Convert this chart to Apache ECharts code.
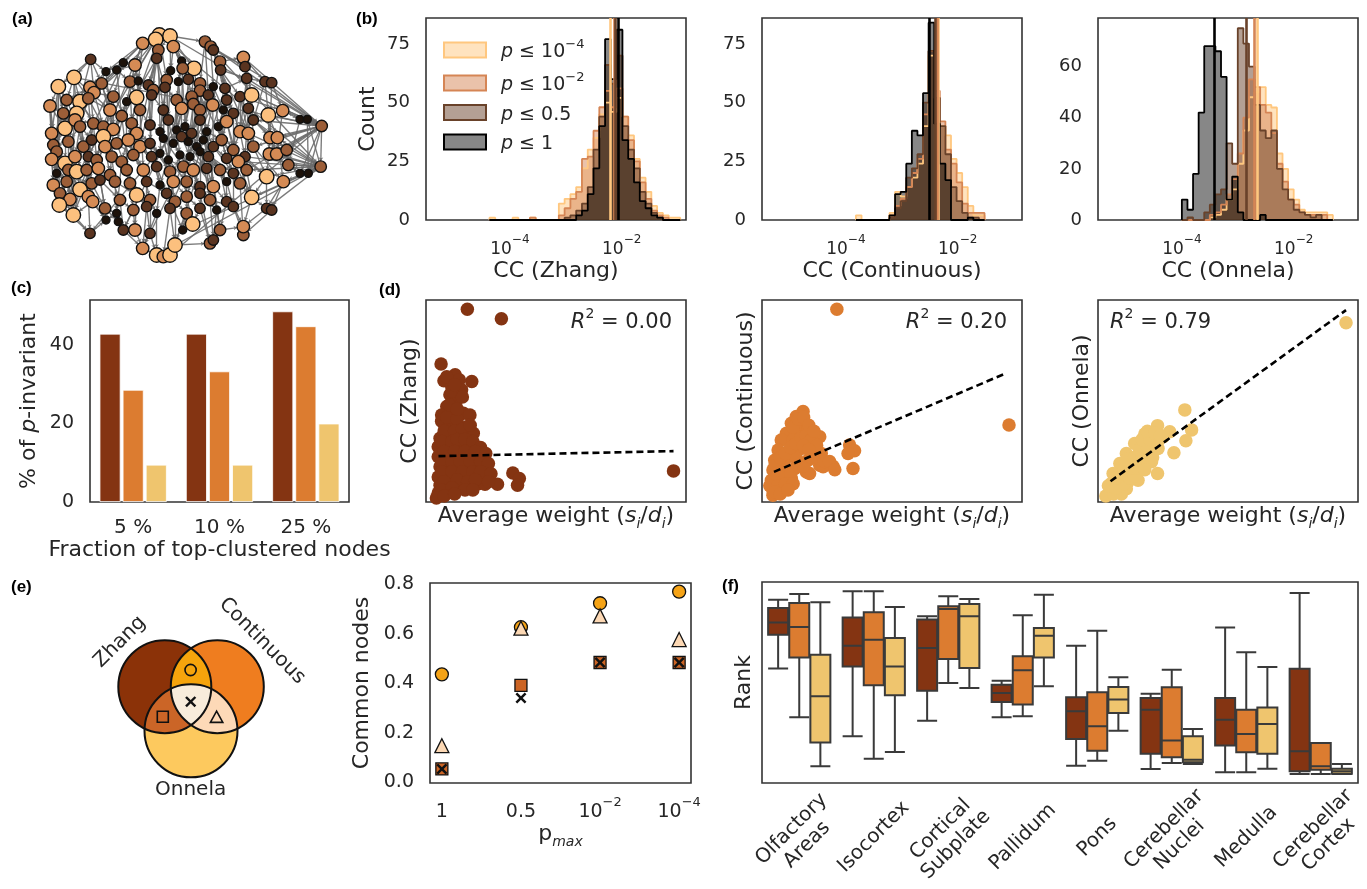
<!DOCTYPE html>
<html>
<head>
<meta charset="utf-8">
<title>Clustering coefficient comparison</title>
<script src="https://cdn.jsdelivr.net/npm/echarts@6/dist/echarts.min.js"></script>
<style>
  html, body { margin: 0; padding: 0; background: #fff; }
  #chart { width: 1367px; height: 889px; }
</style>
</head>
<body>
<div id="chart"></div>
<script>
// ---------- data ----------
const pNames = ['p ≤ 10^-4', 'p ≤ 10^-2', 'p ≤ 0.5', 'p ≤ 1'];

// (b) histograms: log10 bin start, bin width, counts per threshold
const zhangBinStart = -4.365, zhangBinWidth = 0.1034;
const zhangCounts = [
  [1,0,0,0,1,0,0,1,0,0,0,0,7,9,11,14,22,30,35,45,50,46,52,44,36,26,18,12,6,3,2,1,1],
  [0,0,0,0,0,0,0,1,0,0,0,0,2,5,9,12,26,27,38,48,55,48,56,44,34,25,16,9,4,2,1,0,0],
  [0,0,0,0,0,0,0,0,0,0,0,0,0,1,2,4,7,14,30,44,66,58,70,40,30,22,12,7,3,1,0,0,0],
  [0,0,0,0,0,0,0,0,0,0,0,0,0,0,0,2,4,11,22,40,77,60,81,34,26,16,8,5,2,1,0,0,0]
];
const zhangMedians = [-2.20, -2.13, -2.11, -2.07];

const contBinStart = -3.82, contBinWidth = 0.1;
const contCounts = [
  [2,0,0,0,0,0,3,12,10,14,18,24,40,70,52,40,36,26,20,14,6,2,2],
  [0,0,0,0,0,0,2,6,9,14,20,26,45,72,55,42,30,24,16,7,3,3,3],
  [0,0,0,0,0,0,1,5,8,18,22,28,50,72,52,40,28,14,8,3,1,1,0],
  [0,0,0,0,0,0,2,11,12,24,38,36,54,84,41,24,17,0,0,0,1,0,0]
];
const contMedians = [-2.35, -2.37, -2.40, -2.495];

const onnelaBinStart = -4.0, onnelaBinWidth = 0.1;
const onnelaCounts = [
  [0,0,0,0,0,1,2,4,8,12,22,35,48,50,52,45,44,26,20,12,8,4,3,3,3,3,2],
  [0,0,0,0,0,2,3,6,10,16,26,40,55,52,45,42,34,22,15,8,6,3,2,2,2,2,0],
  [0,1,0,0,3,6,10,12,30,22,75,69,60,45,35,32,35,20,12,8,4,3,2,1,2,0,0],
  [8,4,18,42,68,68,66,56,8,17,3,0,0,0,2,0,0,0,0,0,0,0,0,0,0,0,0]
];
const onnelaMedians = [-2.663, -2.705, -2.855, -3.416];

// (c) share of p-invariant nodes
const fractionCats = ['5 %', '10 %', '25 %'];
const pctZhang = [42.9, 42.9, 48.6];
const pctContinuous = [28.6, 33.3, 44.8];
const pctOnnela = [9.5, 9.5, 20.0];

// (d) CC vs average weight (relative units 0-100)
const zhangScatter = [[15.9,95.4],[29.0,90.7],[95.2,15.4],[5.8,68.3],[6.9,60.0],[11.2,63.0],[12.8,60.5],[17.6,59.7],[13.7,55.6],[9.9,57.2],
  [9.2,53.1],[11.8,50.6],[8.0,47.3],[6.0,43.1],[10.5,43.9],[14.4,43.9],[16.9,43.1],[7.3,37.3],[11.8,39.0],[15.7,37.3],
  [5.4,31.5],[9.9,33.2],[13.7,34.0],[18.2,34.0],[4.7,27.4],[8.6,28.2],[13.1,29.0],[16.9,28.2],[19.5,27.4],[4.7,22.4],
  [9.2,23.2],[13.1,22.4],[16.9,23.2],[22.1,23.2],[5.4,17.4],[9.9,18.2],[14.4,17.4],[18.9,18.2],[22.7,17.4],[4.7,12.4],
  [9.2,13.3],[13.7,12.4],[18.2,13.3],[22.7,12.4],[5.4,8.3],[10.5,9.1],[15.7,9.1],[20.2,9.1],[4.7,4.5],[8.6,5.8],
  [13.1,6.6],[27.5,8.8],[33.4,14.4],[35.9,11.6],[35.2,8.3],[22.7,8.8],
  [6,40],[8,42],[12,41],[7,35],[11,35],[14,36],[17,38],[6,30],[10,30],[12,31],[15,31],[18,30],[21,27],[7,25],[11,25],
  [15,25],[19,25],[23,24],[6,20],[10,20],[13,20],[17,20],[21,20],[24,19],[6,15],[10,15],[14,15],[18,15],[21,15],[25,14],
  [7,10],[12,11],[16,10],[19,11],[24,10],[6,6],[10,7],[15,6],[18,6],[4,2],[7,3],[11,4],[9,48],[12,46],[10,55],[14,52],[8,62],[11,58]];
const zhangFit = [[4.8,22.7],[95.2,25.2]];
const contScatter = [[28.8,95.4],[95.0,38.1],[15.8,44.8],[13.2,42.3],[11.3,39.0],[15.1,39.8],[9.4,34.0],[13.8,34.8],[17.7,35.7],[22.2,32.3],
  [7.4,30.7],[11.9,30.7],[16.4,30.7],[20.3,29.0],[6.2,25.7],[10.6,25.7],[15.1,26.5],[19.0,25.7],[22.8,24.0],[4.9,20.7],
  [8.7,20.7],[13.2,21.6],[17.7,20.7],[22.2,18.2],[4.2,15.8],[8.1,15.8],[12.6,16.6],[17.1,14.9],[3.6,10.8],[7.4,10.8],
  [11.3,11.6],[4.2,5.8],[8.1,7.5],[4.2,3.3],[27.3,17.7],[35.0,16.6],[33.7,28.2],[35.6,25.4],[33.1,24.0],[18.3,14.1],[23.5,17.4],
  [5,18],[7,22],[9,24],[11,27],[13,29],[15,32],[17,33],[19,31],[21,28],[12,37],[14,41],[16,42],[18,38],[20,35],[6,13],
  [9,13],[11,14],[14,18],[16,18],[19,22],[21,22],[24,20],[3,8],[6,8],[9,9],[12,9],[5,5],[7,4],[10,6],[26,20],[28,16],[16,28],[18,26]];
const contFit = [[4.6,14.9],[94.0,63.8]];
const onnelaScatter = [[95.4,88.7],[33.4,45.6],[22.9,37.8],[27.6,34.8],[36.0,35.7],[33.8,30.3],[29.2,24.4],[22.9,14.1],
  [18.0,33.7],[14.1,29.0],[18.6,28.2],[10.9,24.0],[15.4,23.2],[19.9,24.0],[23.1,26.5],[8.4,19.1],[12.2,19.1],[16.7,19.1],
  [20.6,19.9],[5.8,14.1],[9.6,14.1],[13.5,14.9],[15.4,10.8],[5.1,9.1],[8.4,9.1],[11.6,10.0],[4.5,5.0],[7.7,5.8],[10.9,6.6],[25.1,32.3],
  [3,3],[6,4],[9,4],[4,8],[7,7],[10,9],[12,12],[14,13],[7,12],[10,16],[13,17],[15,17],[11,21],[14,22],[17,22],[16,26],
  [19,27],[21,29],[17,31],[20,31],[23,30],[19,35],[22,34],[24,33],[18,16],[21,22]];
const onnelaFit = [[4.8,10.3],[95.4,95.0]];
const r2Values = ['0.00', '0.20', '0.79'];

// (e) common nodes
const pmaxLabels = ['1', '0.5', '10^-2', '10^-4'];
const commonZC = [0.436, 0.627, 0.724, 0.771];
const commonCO = [0.147, 0.623, 0.673, 0.577];
const commonZO = [0.053, 0.391, 0.484, 0.484];
const commonAll = [0.053, 0.340, 0.484, 0.484];

// (f) rank per region: [min, Q1, median, Q3, max]
const regions = ['Olfactory\nAreas', 'Isocortex', 'Cortical\nSubplate', 'Pallidum', 'Pons', 'Cerebellar\nNuclei', 'Medulla', 'Cerebellar\nCortex'];
const rankZhang = [[57.0,73.8,79.9,87.1,91.2],[23.2,58.0,68.3,82.4,95.4],[31.0,45.9,67.2,81.3,82.9],[32.7,40.3,44.8,48.9,50.9],
  [8.6,21.9,35.7,42.6,68.3],[7.0,14.6,36.5,42.3,44.4],[5.3,18.6,31.5,42.3,77.4],[4.5,5.8,15.8,56.9,94.5]];
const rankContinuous = [[32.7,62.5,77.6,89.6,94.0],[12.1,48.6,71.3,84.9,95.4],[49.8,61.7,86.6,87.9,92.9],[33.2,39.0,56.1,63.0,83.4],
  [11.1,16.1,28.2,45.1,75.8],[10.0,12.8,21.1,47.6,56.4],[5.3,15.3,24.4,36.5,65.0],[4.5,6.6,8.3,19.9,19.9]];
const rankOnnela = [[8.3,20.2,43.1,63.8,89.9],[15.4,43.6,58.0,72.1,87.6],[47.3,57.2,82.9,89.1,91.5],[48.1,62.5,73.3,77.1,93.7],
  [26.0,34.8,41.5,47.8,52.6],[9.5,10.3,11.6,23.2,26.9],[7.1,14.6,29.4,37.6,57.7],[4.5,4.6,5.8,7.1,9.5]];

// (a) network: [x, y, shade 0 (dark) .. 4 (light)] in layout units
const netNodes = [
  [478,105,4],[510,108,4],[467,118,4],[428,130,3],[520,140,3],[475,150,2],[615,125,2],[632,140,2],[640,150,1],
  [272,178,1],[370,188,0],[405,195,3],[470,175,1],[545,183,0],[582,205,4],[548,205,2],[660,185,2],[662,210,1],[730,172,3],[735,200,1],[318,215,0],[350,210,0],[512,212,0],
  [175,260,4],[222,232,4],[270,262,3],[282,278,3],[305,250,2],[390,245,2],[415,243,0],[445,255,1],[500,240,2],[535,245,0],[565,238,1],[600,250,2],[640,260,0],[675,265,1],[740,235,1],[795,245,1],[815,248,1],[600,272,2],[460,270,2],[495,262,1],
  [150,318,3],[200,300,2],[240,305,4],[265,295,2],[340,290,2],[410,292,4],[380,305,0],[455,285,1],[530,300,2],[575,290,2],[580,312,2],[625,285,1],[638,315,3],[680,300,1],[720,290,1],[755,285,4],[745,325,1],[805,345,4],[848,332,3],[190,340,2],[230,340,4],[330,330,3],[365,348,2],[420,330,2],[490,330,1],[545,325,3],[600,330,2],[670,330,0],[700,340,1],
  [155,400,3],[195,385,4],[225,360,3],[240,380,2],[280,370,2],[310,380,2],[340,388,3],[395,370,2],[410,400,3],[450,375,1],[480,395,0],[505,360,1],[530,390,0],[555,380,0],[575,400,1],[600,360,1],[620,395,0],[655,380,0],[680,365,3],[720,395,3],[745,400,3],[760,360,1],[810,413,3],[832,413,3],[900,358,0],[922,358,0],[965,378,2],[160,435,2],
  [170,455,2],[205,425,2],[250,440,2],[275,420,1],[310,410,4],[315,440,3],[350,430,2],[385,420,3],[420,440,3],[450,430,1],[490,415,0],[520,430,0],[545,410,1],[565,425,0],[590,440,0],[610,420,0],[640,440,1],[665,420,2],[700,450,2],[735,470,1],[760,440,2],[808,462,3],[830,462,3],[860,450,2],
  [155,478,3],[195,490,4],[225,470,3],[265,470,1],[290,480,2],[335,470,2],[365,485,2],[400,465,2],[455,470,1],[480,460,0],[505,480,0],[540,465,0],[570,470,0],[600,455,0],[625,470,1],[680,475,1],[715,485,3],
  [170,520,0],[205,510,2],[230,515,4],[260,510,2],[295,505,3],[330,525,2],[380,510,2],[430,510,3],[470,500,1],[510,515,2],[550,500,2],[580,510,3],[620,505,1],[660,510,2],[700,520,1],[740,510,2],[800,530,4],[850,545,3],[900,520,0],[925,520,0],[962,500,2],[865,495,2],
  [160,555,3],[200,545,2],[240,568,4],[275,550,2],[300,540,1],[345,545,2],[390,550,2],[440,545,1],[480,555,0],[520,545,3],[560,545,2],[600,560,1],[640,560,3],[680,545,0],[720,550,2],
  [180,580,2],[210,598,3],[265,590,3],[278,605,3],[315,625,2],[360,600,2],[410,585,4],[450,600,2],[500,580,1],[525,605,2],[560,590,2],[600,580,1],[630,600,2],[680,605,1],[755,592,4],[800,625,1],[815,630,1],[178,615,4],[220,645,4],[350,640,0],[400,630,2],[440,620,1],[470,640,0],[510,625,1],[560,640,2],[600,625,1],[650,630,0],[700,620,1],
  [270,700,1],[318,660,0],[355,665,0],[370,690,1],[405,690,3],[428,745,3],[470,765,4],[490,770,3],[510,765,4],[525,735,4],[548,690,0],[578,672,4],[630,730,2],[640,720,1],[660,690,2],[730,705,2],[730,680,3],[450,700,1]
];
const netEdges = [
  [98,96],[98,97],[98,61],[98,60],[98,94],[98,95],[98,121],[98,123],[98,160],[98,159],[98,38],[98,93],[98,161],[98,122],[98,58],[98,120],
  [161,159],[161,160],[161,158],[161,157],[161,122],[161,121],[161,162],[161,94],[161,95],[161,192],[161,193],[161,97],[161,156],
  [0,3],[0,12],[0,31],[0,48],[1,4],[1,22],[1,14],[1,6],[2,11],[2,28],[2,41],[3,10],[3,20],[3,29],[4,13],[4,33],[5,30],[5,50],[6,16],[6,34],[6,54],[7,17],[7,35],[8,19],[8,36],[8,56],
  [9,23],[9,24],[9,27],[9,45],[10,21],[10,47],[11,49],[11,66],[12,42],[12,67],[13,32],[13,51],[14,52],[14,69],[15,40],[15,68],[16,18],[16,55],[17,37],[17,57],[18,38],[18,58],[19,39],[19,59],[20,25],[20,64],[21,28],[21,65],[22,31],[22,83],
  [23,43],[23,44],[23,62],[23,72],[24,45],[24,63],[24,46],[25,46],[25,76],[26,77],[26,47],[27,64],[27,78],[28,79],[28,48],[29,80],[29,66],[30,81],[30,50],[31,67],[31,82],[32,84],[32,68],[33,85],[33,52],[34,87],[34,69],[35,89],[35,70],[36,90],[36,71],[37,91],[37,59],[38,60],[38,93],[39,61],[39,94],[40,88],[40,86],[41,109],[42,110],
  [43,72],[43,99],[43,62],[44,73],[44,101],[45,74],[45,102],[46,75],[46,103],[47,78],[47,104],[48,79],[48,107],[49,106],[49,65],[50,108],[50,81],[51,111],[51,84],[52,112],[52,85],[53,113],[53,86],[54,115],[54,87],[55,116],[55,88],[56,117],[56,89],[57,118],[57,91],[58,92],[58,120],[59,119],[59,93],[60,121],[60,95],[61,96],[61,122],[62,100],[63,101],[64,104],[65,105],[66,108],[67,110],[68,112],[69,114],[70,117],[71,118],
  [72,99],[72,124],[73,101],[73,125],[74,102],[75,126],[76,127],[77,128],[78,129],[79,130],[80,131],[81,132],[82,133],[83,134],[84,135],[85,136],[86,137],[87,138],[88,116],[89,139],[90,140],[91,119],[92,156],[93,123],[94,157],[95,158],[96,162],[97,160],
  [99,124],[100,141],[101,142],[102,143],[103,144],[104,145],[105,146],[106,147],[107,148],[108,149],[109,150],[110,151],[111,152],[112,153],[113,154],[114,155],[115,154],[116,155],[117,156],[118,157],[119,157],[120,158],[121,162],[123,162],
  [124,163],[125,164],[126,165],[127,166],[128,167],[129,168],[130,169],[131,170],[132,171],[133,172],[134,173],[135,174],[136,175],[137,176],[138,177],[139,177],[140,192],
  [141,163],[141,178],[142,179],[143,180],[144,181],[145,182],[146,183],[147,184],[148,185],[149,186],[150,187],[151,188],[152,189],[153,190],[154,191],[155,205],[156,192],[157,193],[158,194],
  [163,195],[164,196],[165,180],[166,181],[167,182],[168,197],[169,198],[170,199],[171,200],[172,201],[173,202],[174,203],[175,204],[176,205],[177,221],
  [178,195],[179,196],[180,206],[181,207],[182,208],[183,209],[184,210],[185,223],[186,216],[187,215],[188,217],[189,218],[190,219],[191,220],[192,222],[193,222],[194,221],
  [195,206],[196,206],[197,208],[198,210],[199,211],[200,212],[201,213],[202,214],[203,217],[204,219],[205,221],[206,207],[209,211],[210,211],[211,212],[212,213],[213,214],[214,215],[215,218],[216,217],[218,219],[219,220],[220,222],[221,222],[223,212],
  [3,72],[6,98],[0,161],[1,98],[23,195],[24,196],[43,124],[14,111],[12,131],[31,150],[34,136],[49,147],[66,148],[84,171],[88,175],[10,99],[5,82],[13,85],[17,92],[35,113],
  [64,127],[65,169],[80,133],[110,172],[114,201],[115,188],[116,190],[135,186],[137,189],[147,199],[130,197],[126,179],[102,166],[45,104],[63,100],[76,128],[77,105],[79,109],
  [81,111],[83,113],[87,115],[89,117],[90,118],[91,120],[93,95],[60,94],[57,61],[16,36],[7,19],[2,5],[0,1],[4,15],[11,21],[20,26],[9,20],[25,44],
  [23,73],[24,44],[24,64],[43,73],[43,100],[44,62],[44,74],[45,63],[45,76],[46,77],[46,64],[62,99],[62,101],[63,75],[63,102],[72,100],[72,125],[73,99],[73,126],[74,103],
  [74,76],[75,101],[75,127],[99,125],[99,141],[100,124],[100,142],[101,126],[101,143],[102,127],[102,144],[124,141],[124,164],[125,142],[125,163],[126,143],[126,166],
  [127,144],[127,167],[141,164],[141,195],[142,165],[142,178],[143,164],[143,179],[144,165],[144,180],[163,178],[163,179],[164,178],[164,195],[165,181],[165,196],
  [166,180],[166,182],[178,196],[179,195],[180,207],[181,196],[195,196],
  [47,80],[48,66],[49,78],[50,67],[51,69],[52,68],[53,87],[54,69],[55,70],[56,71],[57,92],[58,59],[59,91],[64,78],[65,79],[66,81],[67,82],[68,84],[69,86],[70,89],[71,91],
  [78,105],[79,107],[80,108],[81,109],[82,110],[83,111],[84,112],[85,113],[86,114],[87,115],[88,117],[89,118],[90,117],[91,118],[92,120],[93,94],[94,122],[95,121],[96,97],
  [104,129],[105,130],[106,131],[107,131],[108,132],[109,133],[110,134],[111,135],[112,136],[113,137],[114,138],[115,138],[116,139],[117,139],[118,140],[119,156],[120,157],
  [128,145],[129,146],[130,147],[131,148],[132,149],[133,150],[134,151],[135,152],[136,153],[137,153],[138,154],[139,155],[140,156],[145,167],[146,168],[147,169],[148,170],
  [149,171],[150,172],[151,173],[152,174],[153,175],[154,176],[155,177],[156,177],[157,192],[158,193],[159,162],[160,162],
  [167,183],[168,184],[169,185],[170,186],[171,187],[172,188],[173,189],[174,190],[175,191],[176,191],[177,192],[182,197],[183,198],[184,199],[185,200],[186,201],[187,202],
  [188,203],[189,204],[190,205],[191,205],[192,193],[197,207],[198,209],[199,223],[200,211],[201,215],[202,216],[203,218],[204,220],[205,222],
  [0,2],[1,5],[3,11],[4,22],[5,12],[6,7],[7,8],[9,26],[10,20],[11,29],[12,30],[13,15],[14,33],[15,33],[16,17],[17,36],[18,19],[19,37],[21,27],[22,42],[25,26],[26,45],
  [27,47],[28,29],[30,41],[31,42],[32,33],[34,35],[36,37],[37,38],[38,39],[40,53],[41,50],[42,51],
  [23,141],[43,163],[24,98],[0,72],[1,192],[3,196],[10,178],[6,161],[18,98],[37,98],[58,98],[92,161],[119,161],[156,98],[140,161],[212,161],[214,98],[216,161],
  [2,195],[12,165],[31,201],[52,190],[68,209],[84,206],[88,220],[36,215],[55,211]
];

// ---------- styles ----------
const FONT = 'DejaVu Sans';
const INK = '#262626';
const copperLine = ['rgb(255,199,127)', 'rgb(213,133,85)', 'rgb(105,66,42)', 'rgb(0,0,0)'];
const copperFill = ['rgba(255,199,127,0.5)', 'rgba(213,133,85,0.5)', 'rgba(105,66,42,0.5)', 'rgba(0,0,0,0.47)'];
const methodColors = ['#843412', '#dc7c30', '#efc56e'];
const nodeColors = ['#1d120a', '#5a3420', '#9c5e38', '#d58b55', '#fcc07e'];
const nodeSizes = [8, 10.5, 11.5, 12.5, 14.5];

const tickStyle = { fontFamily: FONT, fontSize: 17, color: INK };
const nameStyle = { fontFamily: FONT, fontSize: 22, color: INK };
function makeSupRich(size) {
  return {
    b: { fontFamily: FONT, fontSize: size, color: INK, lineHeight: size + 7, verticalAlign: 'bottom' },
    sup: { fontFamily: FONT, fontSize: Math.round(size * 0.7), color: INK, lineHeight: Math.round(size * 0.7), verticalAlign: 'top' }
  };
}
const subRich = {
  n: { fontFamily: FONT, fontSize: 22, color: INK, lineHeight: 26, verticalAlign: 'top' },
  it: { fontFamily: FONT, fontSize: 22, color: INK, lineHeight: 26, verticalAlign: 'top', fontStyle: 'italic' },
  sub: { fontFamily: FONT, fontSize: 14, color: INK, lineHeight: 14, verticalAlign: 'bottom', fontStyle: 'italic' }
};
const pRich = {
  'p ≤ 10^-4': '{i|p}{n| ≤ 10}{sup|−4}',
  'p ≤ 10^-2': '{i|p}{n| ≤ 10}{sup|−2}',
  'p ≤ 0.5': '{i|p}{n| ≤ 0.5}',
  'p ≤ 1': '{i|p}{n| ≤ 1}'
};

const gridBox = { show: true, borderColor: '#333', borderWidth: 1.6, backgroundColor: 'transparent', outerBoundsMode: 'none' };
const grids = [
  { left: 426, top: 18, width: 260, height: 202 },
  { left: 762, top: 18, width: 260, height: 202 },
  { left: 1098, top: 18, width: 260, height: 202 },
  { left: 90, top: 300, width: 259, height: 202 },
  { left: 426, top: 300, width: 260, height: 202 },
  { left: 762, top: 300, width: 260, height: 202 },
  { left: 1098, top: 300, width: 260, height: 202 },
  { left: 430, top: 583, width: 261, height: 200 },
  { left: 762, top: 582, width: 596, height: 201 }
].map(g => Object.assign({}, gridBox, g));
grids.push({ left: 0, top: 0, width: 360, height: 280, show: false, outerBoundsMode: 'none' });

const hidden = { axisLine: { show: false }, axisTick: { show: false }, splitLine: { show: false } };

function stepData(start, width, counts) {
  const pts = [[start, 0]];
  counts.forEach((c, k) => pts.push([start + k * width, c]));
  pts.push([start + counts.length * width, 0]);
  return pts;
}

const xAxes = [], yAxes = [], series = [];

// (b) histograms
const histSets = [
  { name: 'CC (Zhang)', start: zhangBinStart, width: zhangBinWidth, counts: zhangCounts, med: zhangMedians, ymax: 86, yticks: [0, 25, 50, 75] },
  { name: 'CC (Continuous)', start: contBinStart, width: contBinWidth, counts: contCounts, med: contMedians, ymax: 86, yticks: [0, 25, 50, 75] },
  { name: 'CC (Onnela)', start: onnelaBinStart, width: onnelaBinWidth, counts: onnelaCounts, med: onnelaMedians, ymax: 79, yticks: [0, 20, 40, 60] }
];
histSets.forEach((h, gi) => {
  xAxes.push(Object.assign({
    type: 'value', gridIndex: gi, min: -5.5, max: -0.85,
    name: h.name, nameLocation: 'middle', nameGap: 40, nameTextStyle: nameStyle,
    axisLabel: { customValues: [-4, -2], margin: 14, formatter: v => '{b|10}{sup|−' + (-v) + '}', rich: makeSupRich(17) }
  }, hidden));
  yAxes.push(Object.assign({
    type: 'value', gridIndex: gi, min: 0, max: h.ymax,
    name: gi === 0 ? 'Count' : '', nameLocation: 'middle', nameGap: 47, nameTextStyle: nameStyle,
    axisLabel: Object.assign({ customValues: h.yticks, margin: 16 }, tickStyle, { fontSize: 18 })
  }, hidden));
  h.counts.forEach((counts, s) => {
    series.push({
      type: 'line', name: pNames[s], xAxisIndex: gi, yAxisIndex: gi, step: 'end', symbol: 'none',
      data: stepData(h.start, h.width, counts),
      lineStyle: { color: copperLine[s], width: 1.8 },
      itemStyle: { color: copperFill[s] },
      areaStyle: { color: copperFill[s], opacity: 1 },
      emphasis: { disabled: true },
      markLine: {
        silent: true, symbol: ['none', 'none'], label: { show: false },
        lineStyle: { color: copperLine[s], width: 2.6, type: 'solid', opacity: 1 },
        emphasis: { disabled: true },
        data: [{ xAxis: h.med[s] }]
      }
    });
  });
});

// (c) bars
xAxes.push(Object.assign({
  type: 'category', gridIndex: 3, data: fractionCats,
  name: 'Fraction of top-clustered nodes', nameLocation: 'middle', nameGap: 32, nameTextStyle: nameStyle,
  axisLabel: Object.assign({ margin: 16 }, tickStyle, { fontSize: 20 })
}, hidden));
yAxes.push(Object.assign({
  type: 'value', gridIndex: 3, min: 0, max: 51.5,
  name: '% of {i|p}-invariant', nameLocation: 'middle', nameGap: 50,
  nameTextStyle: Object.assign({ rich: { i: Object.assign({ fontStyle: 'italic' }, nameStyle) } }, nameStyle),
  axisLabel: Object.assign({ customValues: [0, 20, 40], margin: 16 }, tickStyle, { fontSize: 19 })
}, hidden));
[pctZhang, pctContinuous, pctOnnela].forEach((vals, i) => {
  series.push({
    type: 'bar', xAxisIndex: 3, yAxisIndex: 3, data: vals, barWidth: 21, barGap: '10%',
    itemStyle: { color: methodColors[i], borderColor: '#fff', borderWidth: 0.8 },
    emphasis: { disabled: true }
  });
});

// (d) scatter with regression
const scatterSets = [
  { name: 'CC (Zhang)', pts: zhangScatter, fit: zhangFit },
  { name: 'CC (Continuous)', pts: contScatter, fit: contFit },
  { name: 'CC (Onnela)', pts: onnelaScatter, fit: onnelaFit }
];
scatterSets.forEach((d, i) => {
  const gi = 4 + i;
  xAxes.push(Object.assign({
    type: 'value', gridIndex: gi, min: 0, max: 100,
    name: '{n|Average weight (}{it|s}{sub|i}{n|/}{it|d}{sub|i}{n|)}', nameLocation: 'middle', nameGap: 3,
    nameTextStyle: Object.assign({ rich: subRich }, nameStyle),
    axisLabel: { show: false }
  }, hidden));
  yAxes.push(Object.assign({
    type: 'value', gridIndex: gi, min: 0, max: 100,
    name: d.name, nameLocation: 'middle', nameGap: 5, nameTextStyle: nameStyle,
    axisLabel: { show: false }
  }, hidden));
  series.push({
    type: 'scatter', xAxisIndex: gi, yAxisIndex: gi, data: d.pts, symbolSize: 13.5,
    itemStyle: { color: methodColors[i], opacity: 1 }, emphasis: { disabled: true }
  });
  series.push({
    type: 'line', xAxisIndex: gi, yAxisIndex: gi, data: d.fit, symbol: 'none', z: 5,
    lineStyle: { color: '#000', width: 2.6, type: [7, 4] }, emphasis: { disabled: true }
  });
});

// (e) common nodes
xAxes.push(Object.assign({
  type: 'value', gridIndex: 7, min: -0.15, max: 3.15,
  name: '{n|p}{sub|max}', nameLocation: 'middle', nameGap: 40,
  nameTextStyle: Object.assign({ rich: subRich }, nameStyle),
  axisLabel: {
    customValues: [0, 1, 2, 3], margin: 13, rich: makeSupRich(19),
    formatter: v => {
      const lab = pmaxLabels[Math.round(v)];
      const parts = lab.split('^');
      return parts.length > 1 ? '{b|' + parts[0] + '}{sup|' + parts[1].replace('-', '−') + '}' : '{b|' + lab + '}';
    }
  }
}, hidden));
yAxes.push(Object.assign({
  type: 'value', gridIndex: 7, min: -0.004, max: 0.806,
  name: 'Common nodes', nameLocation: 'middle', nameGap: 57, nameTextStyle: nameStyle,
  axisLabel: Object.assign({ customValues: [0, 0.2, 0.4, 0.6, 0.8], margin: 16, formatter: v => v.toFixed(1) }, tickStyle, { fontSize: 19 })
}, hidden));
const xMark = 'path://M0,1.6L1.6,0L5,3.4L8.4,0L10,1.6L6.6,5L10,8.4L8.4,10L5,6.6L1.6,10L0,8.4L3.4,5Z';
[
  { vals: commonZC, symbol: 'circle', size: 13, color: '#f5a316' },
  { vals: commonCO, symbol: 'triangle', size: 14, color: '#fcd8b4' },
  { vals: commonZO, symbol: 'rect', size: 12, color: '#cc6424' },
  { vals: commonAll, symbol: xMark, size: 11, color: '#111' }
].forEach(m => {
  series.push({
    type: 'scatter', xAxisIndex: 7, yAxisIndex: 7, symbol: m.symbol, symbolSize: m.size,
    data: m.vals.map((v, i) => [i, v]),
    itemStyle: { color: m.color, borderColor: '#111', borderWidth: m.symbol === xMark ? 0 : 1.3, opacity: 1 },
    emphasis: { disabled: true }
  });
});

// (f) boxplots
xAxes.push(Object.assign({
  type: 'category', gridIndex: 8, data: regions,
  axisLabel: Object.assign({ interval: 0, rotate: 45, align: 'center', verticalAlign: 'middle', margin: 54, lineHeight: 22 }, tickStyle, { fontSize: 20 })
}, hidden));
yAxes.push(Object.assign({
  type: 'value', gridIndex: 8, min: 0, max: 100,
  name: 'Rank', nameLocation: 'middle', nameGap: 7, nameTextStyle: nameStyle,
  axisLabel: { show: false }
}, hidden));
[rankZhang, rankContinuous, rankOnnela].forEach((vals, i) => {
  series.push({
    type: 'boxplot', xAxisIndex: 8, yAxisIndex: 8, data: vals, boxWidth: [20, 20],
    itemStyle: { color: methodColors[i], borderColor: '#3a3a3a', borderWidth: 2 },
    emphasis: { disabled: true }
  });
});

// (a) network
xAxes.push({ type: 'value', gridIndex: 9, min: 0, max: 1080, show: false });
yAxes.push({ type: 'value', gridIndex: 9, min: 0, max: 840, inverse: true, show: false });
series.push({
  type: 'graph', coordinateSystem: 'cartesian2d', xAxisIndex: 9, yAxisIndex: 9, silent: true,
  data: netNodes.map(n => ({
    value: [n[0], n[1]], symbolSize: nodeSizes[n[2]],
    itemStyle: { color: nodeColors[n[2]], borderColor: '#111', borderWidth: 1.4 }
  })),
  links: netEdges.map(e => ({ source: e[0], target: e[1] })),
  lineStyle: { color: '#6c6c6c', width: 1.35, opacity: 0.9 },
  edgeSymbol: ['none', 'arrow'], edgeSymbolSize: 3.5,
  label: { show: false }, emphasis: { disabled: true }
});

// ---------- Venn diagram (e) ----------
const vennCircles = [
  { cx: 164.8, cy: 686.7, r: 46.5 },
  { cx: 217.3, cy: 686.7, r: 46.5 },
  { cx: 191.0, cy: 730.8, r: 46.5 }
];
function circlePts(c) {
  const pts = [];
  for (let i = 0; i < 96; i++) {
    const t = 2 * Math.PI * i / 96;
    pts.push([c.cx + c.r * Math.cos(t), c.cy + c.r * Math.sin(t)]);
  }
  return pts;
}
function clipPoly(subject, clip) {
  let out = subject;
  for (let i = 0; i < clip.length; i++) {
    const a = clip[i], b = clip[(i + 1) % clip.length];
    const inside = p => (b[0] - a[0]) * (p[1] - a[1]) - (b[1] - a[1]) * (p[0] - a[0]) >= 0;
    const cross = (p, q) => {
      const den = (p[0] - q[0]) * (a[1] - b[1]) - (p[1] - q[1]) * (a[0] - b[0]);
      const t = ((p[0] - a[0]) * (a[1] - b[1]) - (p[1] - a[1]) * (a[0] - b[0])) / den;
      return [p[0] + t * (q[0] - p[0]), p[1] + t * (q[1] - p[1])];
    };
    const input = out;
    out = [];
    for (let j = 0; j < input.length; j++) {
      const cur = input[j], prev = input[(j + input.length - 1) % input.length];
      if (inside(cur)) {
        if (!inside(prev)) out.push(cross(prev, cur));
        out.push(cur);
      } else if (inside(prev)) {
        out.push(cross(prev, cur));
      }
    }
  }
  return out;
}
const pz = circlePts(vennCircles[0]), pc = circlePts(vennCircles[1]), po = circlePts(vennCircles[2]);
const vennRegions = [
  [pz, '#8b3208'], [pc, '#ef7d1f'], [po, '#fdc95e'],
  [clipPoly(pz, pc), '#f6a40c'], [clipPoly(pz, po), '#cb6527'], [clipPoly(pc, po), '#fdd9b7'],
  [clipPoly(clipPoly(pz, pc), po), '#f8ecdb']
];
const graphic = [];
vennRegions.forEach(r => graphic.push({ type: 'polygon', silent: true, shape: { points: r[0] }, style: { fill: r[1] } }));
vennCircles.forEach(c => graphic.push({ type: 'circle', silent: true, shape: c, style: { fill: 'none', stroke: '#111', lineWidth: 2 } }));
graphic.push(
  { type: 'circle', silent: true, shape: { cx: 190.6, cy: 670, r: 5.6 }, style: { fill: 'none', stroke: '#111', lineWidth: 1.6 } },
  { type: 'rect', silent: true, shape: { x: 157.3, y: 711.2, width: 11, height: 11 }, style: { fill: 'none', stroke: '#111', lineWidth: 1.6 } },
  { type: 'polygon', silent: true, shape: { points: [[216.6, 711.2], [222.8, 722.4], [210.4, 722.4]] }, style: { fill: 'none', stroke: '#111', lineWidth: 1.6 } },
  { type: 'line', silent: true, shape: { x1: 186, y1: 697, x2: 195.4, y2: 706.4 }, style: { stroke: '#111', lineWidth: 2.4 } },
  { type: 'line', silent: true, shape: { x1: 195.4, y1: 697, x2: 186, y2: 706.4 }, style: { stroke: '#111', lineWidth: 2.4 } },
  { type: 'text', silent: true, x: 120, y: 642, rotation: Math.PI / 4, style: { text: 'Zhang', x: 0, y: 0, align: 'center', verticalAlign: 'middle', fontFamily: FONT, fontSize: 20, fill: INK } },
  { type: 'text', silent: true, x: 262, y: 641, rotation: -Math.PI / 4, style: { text: 'Continuous', x: 0, y: 0, align: 'center', verticalAlign: 'middle', fontFamily: FONT, fontSize: 20, fill: INK } },
  { type: 'text', silent: true, x: 190.6, y: 790, style: { text: 'Onnela', x: 0, y: 0, align: 'center', verticalAlign: 'middle', fontFamily: FONT, fontSize: 20, fill: INK } }
);

// R^2 annotations in (d)
const r2Rich = {
  i: { fontFamily: FONT, fontSize: 21, fill: INK, color: INK, fontStyle: 'italic', lineHeight: 26, verticalAlign: 'bottom' },
  sup: { fontFamily: FONT, fontSize: 14, fill: INK, color: INK, lineHeight: 14, verticalAlign: 'top' },
  n: { fontFamily: FONT, fontSize: 21, fill: INK, color: INK, lineHeight: 26, verticalAlign: 'bottom' }
};
const r2Pos = [[672, 320, 'right'], [1007, 320, 'right'], [1110, 320, 'left']];
r2Values.forEach((v, i) => {
  graphic.push({
    type: 'text', silent: true, x: r2Pos[i][0], y: r2Pos[i][1],
    style: { text: '{i|R}{sup|2}{n| = ' + v + '}', x: 0, y: 0, align: r2Pos[i][2], verticalAlign: 'middle', rich: r2Rich }
  });
});

// panel letters
const panelStyle = { fontFamily: 'Liberation Sans', fontWeight: 'bold', fontSize: 17, color: '#000' };
const panels = [['(a)', 12, 11], ['(b)', 356, 11], ['(c)', 11, 280], ['(d)', 379, 282], ['(e)', 11, 579], ['(f)', 722, 578]];

const option = {
  animation: false,
  backgroundColor: '#fff',
  title: panels.map(p => ({ text: p[0], left: p[1], top: p[2], padding: 0, textStyle: panelStyle })),
  grid: grids,
  xAxis: xAxes,
  yAxis: yAxes,
  legend: {
    left: 443, top: 38, orient: 'vertical', itemWidth: 42, itemHeight: 15, itemGap: 9, padding: 0,
    data: pNames.map((n, i) => ({ name: n, icon: 'rect', itemStyle: { color: copperFill[i], borderColor: copperLine[i], borderWidth: 2 } })),
    formatter: n => pRich[n],
    textStyle: {
      padding: [0, 0, 0, 10],
      rich: {
        i: { fontFamily: FONT, fontSize: 19, color: INK, fontStyle: 'italic', lineHeight: 24, verticalAlign: 'bottom' },
        n: { fontFamily: FONT, fontSize: 19, color: INK, lineHeight: 24, verticalAlign: 'bottom' },
        sup: { fontFamily: FONT, fontSize: 13, color: INK, lineHeight: 13, verticalAlign: 'top' }
      }
    }
  },
  graphic: graphic,
  series: series
};

const chart = echarts.init(document.getElementById('chart'));
chart.setOption(option);
</script>
</body>
</html>
